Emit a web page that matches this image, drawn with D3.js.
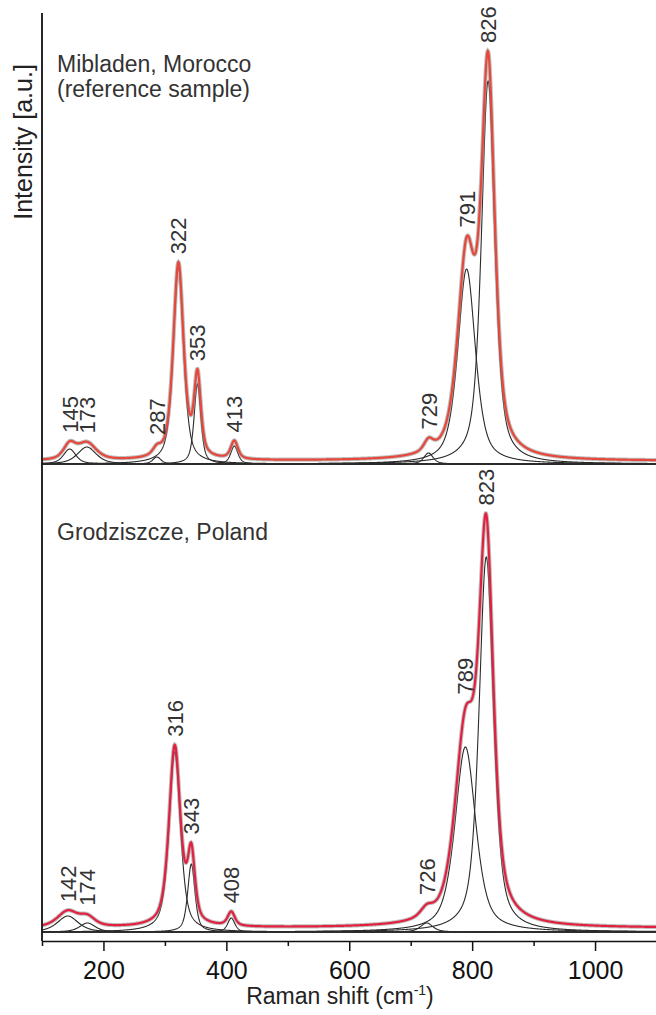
<!DOCTYPE html>
<html lang="en">
<head>
<meta charset="UTF-8">
<script src="https://cdn.jsdelivr.net/npm/d3@7"></script>
<title>Raman spectra</title>
<style>
  body { margin: 0; background: #fff; }
  text { font-family: "Liberation Sans", Arial, sans-serif; }
</style>
</head>
<body>
<script type="text/javascript">
// Fitted bands: centre (cm-1), height (a.u.), half width (cm-1)
var topCentres = [145, 173, 287, 322, 353, 413, 729, 791, 826];
var topHeights = [15, 17, 7, 196, 80, 18, 11, 195, 383];
var topWidths  = [12, 18, 8, 10, 6.5, 7, 9, 17, 13];
var topOffset  = 3;

var botCentres = [142, 174, 316, 343, 408, 726, 789, 823];
var botHeights = [16, 9, 180, 68, 14, 9, 185, 375];
var botWidths  = [20, 15, 11, 7, 7, 12, 20, 14];
var botOffset  = 4;

var panelTitles = [["Mibladen, Morocco", "(reference sample)"], ["Grodziszcze, Poland"]];
var majorTicks = [200, 400, 600, 800, 1000];
var minorTicks = [100, 300, 500, 700, 900, 1100];

var W = 656, H = 1015;
var svg = d3.select("body").append("svg")
    .attr("width", W)
    .attr("height", H);

var x = d3.scaleLinear().domain([100, 1100]).range([42, 656.5]);
var eta = 0.6; // Lorentzian share of the pseudo-Voigt shape

function band(v, c, h, w) {
    var u = (v - c) / w;
    return h * (eta / (1 + u * u) + (1 - eta) * Math.exp(-Math.LN2 * u * u));
}

var xs = d3.range(100, 1100.01, 0.5);

function drawPanel(centres, heights, widths, offset, baseY, title, redColour) {
    var y = d3.scaleLinear().domain([0, 450]).range([baseY, baseY - 450]);
    var line = d3.line()
        .x(function(d) { return x(d[0]); })
        .y(function(d) { return y(d[1]); });

    var g = svg.append("g");

    // single components
    centres.forEach(function(c, i) {
        var pts = xs.map(function(v) { return [v, band(v, c, heights[i], widths[i])]; });
        g.append("path")
            .attr("d", line(pts))
            .attr("fill", "none")
            .attr("stroke", "#2b2b2b")
            .attr("stroke-width", 1.1);
    });

    // envelope
    var sum = xs.map(function(v) {
        var s = offset;
        centres.forEach(function(c, i) { s += band(v, c, heights[i], widths[i]); });
        return [v, s];
    });
    g.append("path")
        .attr("d", line(sum))
        .attr("fill", "none")
        .attr("stroke", "#8a8a8a")
        .attr("stroke-opacity", 0.55)
        .attr("stroke-width", 4.2);
    g.append("path")
        .attr("d", line(sum))
        .attr("fill", "none")
        .attr("stroke", redColour)
        .attr("stroke-width", 2.2);

    // band labels
    centres.forEach(function(c) {
        var top = d3.max(sum.filter(function(d) { return Math.abs(d[0] - c) <= 4; }), function(d) { return d[1]; });
        g.append("text")
            .attr("transform", "translate(" + (x(c) + 8) + "," + (y(top) - 8) + ") rotate(-90)")
            .attr("text-anchor", "start")
            .attr("fill", "#333")
            .style("font-size", "22px")
            .text(c);
    });

    // sample name
    title.forEach(function(t, i) {
        g.append("text")
            .attr("x", 57)
            .attr("y", baseY - 392 + i * 25)
            .attr("fill", "#333")
            .style("font-size", "23px")
            .text(t);
    });
}

drawPanel(topCentres, topHeights, topWidths, topOffset, 464, panelTitles[0], "#e8473b");
drawPanel(botCentres, botHeights, botWidths, botOffset, 932, panelTitles[1], "#e3203f");

// x axis
var axisY = 941;
svg.append("g")
    .attr("transform", "translate(0," + axisY + ")")
    .call(d3.axisBottom(x).tickValues(minorTicks).tickSize(5).tickSizeOuter(0).tickFormat(""))
    .call(function(a) { a.selectAll("line").attr("stroke", "#111").attr("stroke-width", 1.5); });

var xAxis = svg.append("g")
    .attr("transform", "translate(0," + axisY + ")")
    .call(d3.axisBottom(x).tickValues(majorTicks).tickSize(10).tickSizeOuter(0).tickPadding(10)
        .tickFormat(d3.format("d")));
xAxis.select(".domain").attr("stroke", "#111").attr("stroke-width", 1.6);
xAxis.selectAll("line").attr("stroke", "#111").attr("stroke-width", 1.5);
xAxis.selectAll("text")
    .attr("fill", "#111")
    .style("font-family", "'Liberation Sans', Arial, sans-serif")
    .style("font-size", "25px");

// y axis (no ticks)
svg.append("line")
    .attr("x1", x(100)).attr("x2", x(100))
    .attr("y1", 13).attr("y2", axisY)
    .attr("stroke", "#111")
    .attr("stroke-width", 1.8);

// axis titles
var xLabel = svg.append("text")
    .attr("x", 340)
    .attr("y", 1004)
    .attr("text-anchor", "middle")
    .attr("fill", "#222")
    .style("font-size", "23px");
xLabel.append("tspan").text("Raman shift (cm");
xLabel.append("tspan").attr("dy", -9).style("font-size", "14px").text("-1");
xLabel.append("tspan").attr("dy", 9).text(")");

svg.append("text")
    .attr("transform", "translate(32,142) rotate(-90)")
    .attr("text-anchor", "middle")
    .attr("fill", "#222")
    .style("font-size", "25px")
    .text("Intensity [a.u.]");
</script>
</body>
</html>
